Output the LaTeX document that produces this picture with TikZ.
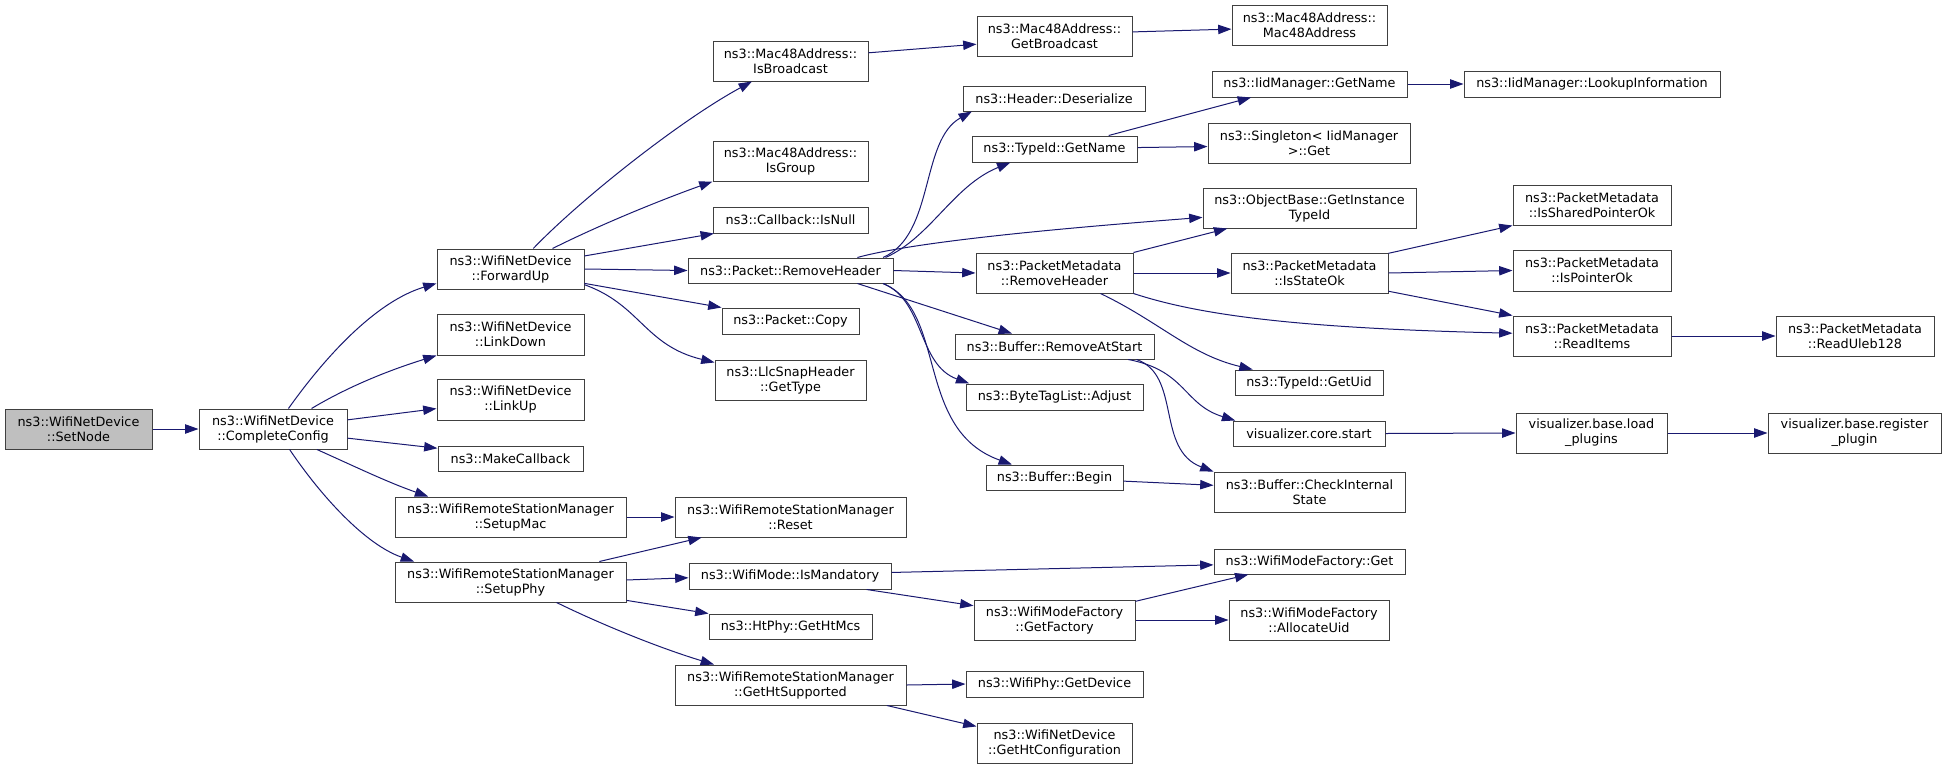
\documentclass[tikz,border=0pt]{standalone}
\usepackage{fontspec}
\setmainfont{DejaVu Sans}
\usetikzlibrary{arrows.meta}
\definecolor{edgec}{HTML}{191970}
\definecolor{bordc}{HTML}{404040}
\definecolor{rootc}{HTML}{BFBFBF}
\tikzset{
  box/.style={draw=bordc, line width=0.75pt, fill=white, inner sep=0pt, align=center,
    font=\fontsize{9.6}{11.25}\selectfont},
  rootbox/.style={box, fill=rootc},
  call/.style={draw=edgec, line width=0.75pt, -{Triangle[length=10pt,width=7pt]}}
}
\newcommand\bx[7][box]{\node[#1, minimum width={(#5-#3)*0.75pt}, minimum height={(#6-#4)*0.75pt}] (#2) at ({(#3+#5)/2},{(#4+#6)/2}) {#7};}
\begin{document}
\begin{tikzpicture}[x=0.75pt,y=-0.75pt]
\useasboundingbox (0,0) rectangle (1947,768);
\bx[rootbox]{SN}{5}{409}{152}{449}{ns3::WifiNetDevice\\::SetNode}
\bx{CC}{199}{409}{347}{449}{ns3::WifiNetDevice\\::CompleteConfig}
\bx{FU}{437}{249}{584}{289}{ns3::WifiNetDevice\\::ForwardUp}
\bx{LD}{437}{314}{584}{355}{ns3::WifiNetDevice\\::LinkDown}
\bx{LU}{437}{379}{584}{420}{ns3::WifiNetDevice\\::LinkUp}
\bx{MC}{438}{446}{583}{471}{ns3::MakeCallback}
\bx{SM}{395}{497}{626}{537}{ns3::WifiRemoteStationManager\\::SetupMac}
\bx{SP}{395}{562}{626}{602}{ns3::WifiRemoteStationManager\\::SetupPhy}
\bx{IB}{713}{41}{868}{81}{ns3::Mac48Address::\\IsBroadcast}
\bx{IG}{713}{141}{868}{181}{ns3::Mac48Address::\\IsGroup}
\bx{IN}{713}{207}{868}{233}{ns3::Callback::IsNull}
\bx{PR}{688}{258}{893}{283}{ns3::Packet::RemoveHeader}
\bx{PC}{722}{308}{859}{334}{ns3::Packet::Copy}
\bx{LS}{715}{360}{866}{400}{ns3::LlcSnapHeader\\::GetType}
\bx{RS}{675}{497}{906}{537}{ns3::WifiRemoteStationManager\\::Reset}
\bx{IM}{689}{563}{891}{589}{ns3::WifiMode::IsMandatory}
\bx{HM}{709}{614}{872}{639}{ns3::HtPhy::GetHtMcs}
\bx{HS}{675}{665}{906}{705}{ns3::WifiRemoteStationManager\\::GetHtSupported}
\bx{GB}{977}{16}{1132}{56}{ns3::Mac48Address::\\GetBroadcast}
\bx{MA}{1232}{5}{1387}{45}{ns3::Mac48Address::\\Mac48Address}
\bx{HD}{963}{86}{1145}{111}{ns3::Header::Deserialize}
\bx{TG}{972}{136}{1137}{162}{ns3::TypeId::GetName}
\bx{IDG}{1212}{71}{1407}{97}{ns3::IidManager::GetName}
\bx{SG}{1208}{123}{1410}{163}{ns3::Singleton< IidManager\\ >::Get}
\bx{GI}{1203}{188}{1416}{228}{ns3::ObjectBase::GetInstance\\TypeId}
\bx{PMR}{976}{253}{1133}{293}{ns3::PacketMetadata\\::RemoveHeader}
\bx{SO}{1231}{253}{1388}{293}{ns3::PacketMetadata\\::IsStateOk}
\bx{RA}{955}{334}{1154}{359}{ns3::Buffer::RemoveAtStart}
\bx{GU}{1235}{370}{1383}{395}{ns3::TypeId::GetUid}
\bx{BA}{966}{384}{1143}{410}{ns3::ByteTagList::Adjust}
\bx{VS}{1233}{421}{1385}{446}{visualizer.core.start}
\bx{BB}{986}{465}{1123}{490}{ns3::Buffer::Begin}
\bx{CI}{1214}{472}{1405}{512}{ns3::Buffer::CheckInternal\\State}
\bx{WG}{1214}{549}{1405}{574}{ns3::WifiModeFactory::Get}
\bx{GF}{974}{600}{1135}{640}{ns3::WifiModeFactory\\::GetFactory}
\bx{AU}{1229}{600}{1389}{640}{ns3::WifiModeFactory\\::AllocateUid}
\bx{GD}{966}{671}{1143}{697}{ns3::WifiPhy::GetDevice}
\bx{HC}{977}{723}{1132}{763}{ns3::WifiNetDevice\\::GetHtConfiguration}
\bx{LI}{1464}{71}{1720}{97}{ns3::IidManager::LookupInformation}
\bx{SPO}{1513}{185}{1671}{225}{ns3::PacketMetadata\\::IsSharedPointerOk}
\bx{PO}{1513}{250}{1671}{291}{ns3::PacketMetadata\\::IsPointerOk}
\bx{RI}{1513}{316}{1671}{356}{ns3::PacketMetadata\\::ReadItems}
\bx{RU}{1776}{316}{1934}{356}{ns3::PacketMetadata\\::ReadUleb128}
\bx{LP}{1516}{413}{1667}{453}{visualizer.base.load\\\_plugins}
\bx{RP}{1768}{413}{1941}{453}{visualizer.base.register\\\_plugin}

\draw[call] (SN.east) -- (CC.west);
\draw[call] (CC.53) .. controls +(42,-59) and +(-57,17) .. (FU.191);
\draw[call] (CC.28) .. controls +(40,-24) and +(-42,13) .. (LD.south west);
\draw[call] (CC.7) -- (LU.187);
\draw[call] (CC.353) -- (MC.172);
\draw[call] (CC.335) .. controls +(40,18) and +(-40,-14) .. (SM.166);
\draw[call] (CC.309) .. controls +(31,46) and +(-49,-17) .. (SP.168);

\draw[call] (FU.42) .. controls +(47,-49) and +(-72,39) .. (IB.208);
\draw[call] (FU.26) .. controls +(48,-24) and +(-53,19) .. (IG.south west);
\draw[call] (FU.10) -- (IN.190);
\draw[call] (FU.east) -- (PR.west);
\draw[call] (FU.349) -- (PC.north west);
\draw[call] (FU.348) .. controls +(56,20) and +(-70,-17) .. (LS.167);

\draw[call] (PR.8) .. controls +(52,-23) and +(-52,29) .. (HD.189);
\draw[call] ([xshift=-6pt]PR.north east) .. controls +(45,-20) and +(-57,23) .. (TG.197);
\draw[call] (PR.11) .. controls +(65,-18) and +(-103,8) .. (GI.185);
\draw[call] (PR.east) -- (PMR.west);
\draw[call] (PR.349) -- (RA.163);
\draw[call] (PR.352) .. controls +(42,17) and +(-52,-19) .. (BA.171);
\draw[call] (PR.352) .. controls +(65,27) and +(-98,-35) .. (BB.163);

\draw[call] (PMR.north east) -- (GI.194);
\draw[call] (PMR.east) -- (SO.west);
\draw[call] (PMR.south east) .. controls +(67,22) and +(-213,-5) .. (RI.178);
\draw[call] (PMR.336) .. controls +(60,29) and +(-63,-15) .. (GU.167);

\draw[call] (SO.14) -- (SPO.south west);
\draw[call] (SO.east) -- (PO.west);
\draw[call] (SO.347) -- (RI.north west);
\draw[call] (RI.east) -- (RU.west);

\draw[call] (TG.14) -- (IDG.193);
\draw[call] (TG.1) -- (SG.182);
\draw[call] (IDG.east) -- (LI.west);
\draw[call] (IB.6) -- (GB.186);
\draw[call] (GB.3) -- (MA.183);

\draw[call] (RA.350) .. controls +(58,11) and +(-52,-16) .. (VS.170);
\draw[call] (RA.351) .. controls +(45,16) and +(-58,-22) .. (CI.168);
\draw[call] (BB.357) -- (CI.176);
\draw[call] (VS.east) -- (LP.west);
\draw[call] (LP.east) -- (RP.west);

\draw[call] (SM.east) -- (RS.west);
\draw[call] (SP.13) -- (RS.193);
\draw[call] (SP.1) -- (IM.181);
\draw[call] (SP.351) -- (HM.171);
\draw[call] (SP.336) .. controls +(45,22) and +(-56,-17) .. (HS.165);
\draw[call] (IM.2) -- (WG.182);
\draw[call] (IM.350) -- (GF.170);
\draw[call] (GF.13) -- (WG.192);
\draw[call] (GF.east) -- (AU.west);
\draw[call] (HS.east) -- (GD.west);
\draw[call] (HS.348) -- (HC.168);
\end{tikzpicture}
\end{document}
